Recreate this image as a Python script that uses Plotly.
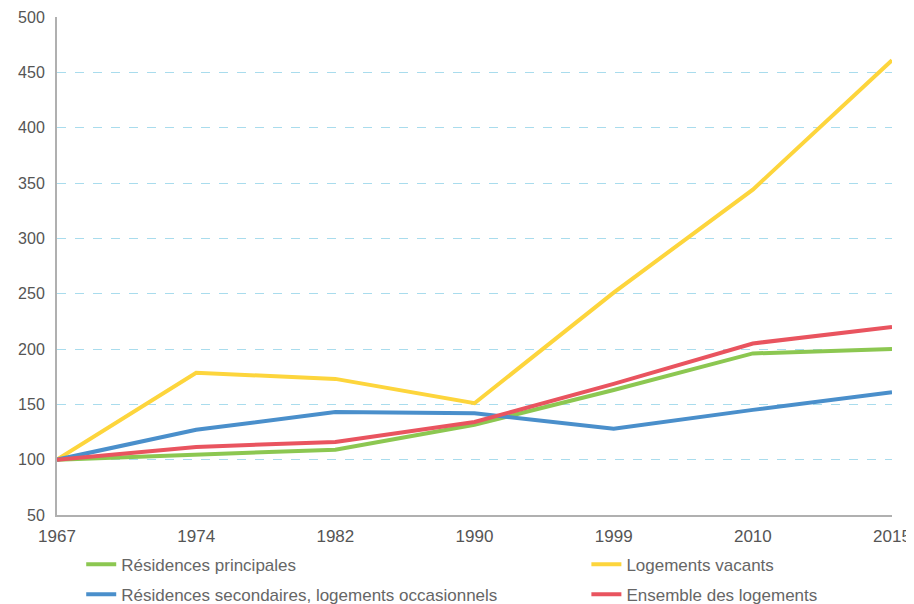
import plotly.graph_objects as go

years = ["1967", "1974", "1982", "1990", "1999", "2010", "2015"]
res_principales = [100, 104.5, 109, 131.5, 163, 196, 200]
logements_vacants = [100, 178.5, 173, 151, 251, 344, 461]
res_secondaires = [100, 127, 143, 142, 128, 145, 161]
ensemble = [100, 111.5, 116, 134, 168.5, 205, 220]

series = [
    ("Résidences principales", res_principales, "#8cc751", "legend", 0.029, -0.10),
    ("Logements vacants", logements_vacants, "#fdd53c", "legend2", 0.634, -0.10),
    ("Résidences secondaires, logements occasionnels", res_secondaires, "#4a8fcb", "legend3", 0.029, -0.16),
    ("Ensemble des logements", ensemble, "#e9545f", "legend4", 0.634, -0.16),
]

fig = go.Figure()
legends = {}
for name, vals, col, lg, lx, ly in series:
    fig.add_trace(go.Scatter(x=years, y=vals, name=name, mode="lines",
                             line=dict(color=col, width=4), legend=lg))
    legends[lg] = dict(orientation="h", x=lx, xanchor="left", y=ly, yanchor="middle",
                       font=dict(size=17, color="#666666"), bgcolor="rgba(0,0,0,0)")

fig.update_layout(
    width=914, height=596,
    margin=dict(l=49, r=30, t=9, b=89, autoexpand=False),
    paper_bgcolor="white", plot_bgcolor="white",
    font=dict(family="Liberation Sans, Arial, sans-serif", size=17, color="#555555"),
    showlegend=True,
    **legends,
    xaxis=dict(type="category", range=[0, 6], showgrid=False, showline=True,
               linecolor="#b0b0b0", linewidth=2, ticks="", tickfont=dict(size=17),
               zeroline=False, ticklabelstandoff=5),
    yaxis=dict(range=[50, 500], dtick=50, showgrid=True, gridcolor="#a9dced",
               griddash="dash", gridwidth=1, showline=True, linecolor="#b0b0b0",
               linewidth=2, ticks="", zeroline=False, tickfont=dict(size=16),
               ticklabelstandoff=7),
)

fig.write_html("out.html")
